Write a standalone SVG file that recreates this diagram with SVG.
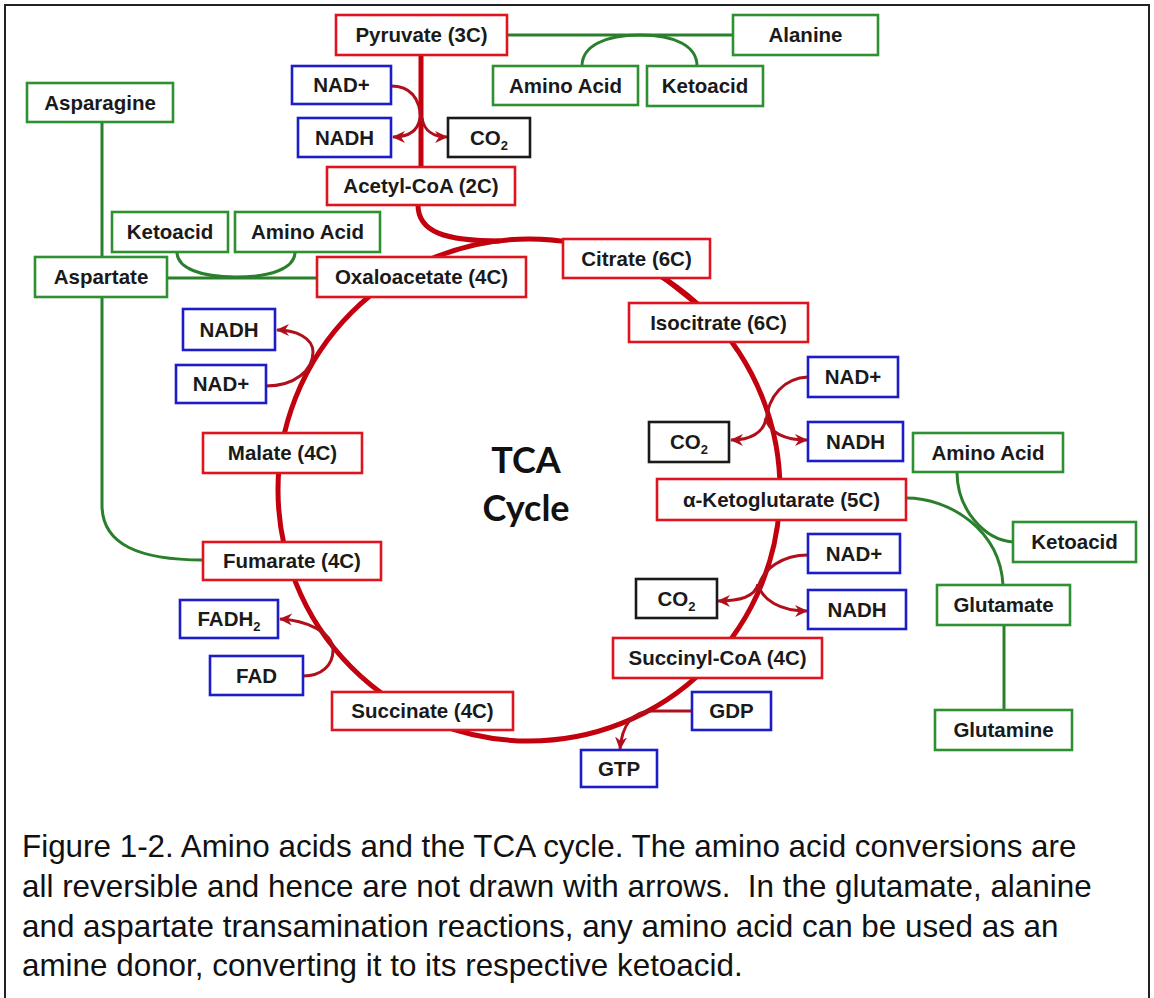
<svg xmlns="http://www.w3.org/2000/svg" width="1154" height="998" viewBox="0 0 1154 998">
<defs>
<style>
.bx{fill:#fff;stroke-width:2.6}
.r{stroke:#e0141e}
.b{stroke:#1c1cc8}
.g{stroke:#2e9030}
.k{stroke:#1a1a1a}
.t{font-family:"Liberation Sans",Arial,sans-serif;font-weight:bold;font-size:20.5px;fill:#1a1a1a;text-anchor:middle}
.sub{font-size:13px}
.cyc{fill:none;stroke:#c2000e;stroke-width:5}
.co{fill:none;stroke:#b0101c;stroke-width:3}
.gl{fill:none;stroke:#2a7f2c;stroke-width:3}
.cap{font-family:"Liberation Sans",Arial,sans-serif;font-size:31.4px;fill:#111}
</style>
<marker id="ah" markerUnits="userSpaceOnUse" markerWidth="14" markerHeight="14" viewBox="0 0 14 14" refX="12" refY="7" orient="auto">
<path d="M0,1 L13,7 L0,13 L4,7 z" fill="#b0101c"/>
</marker>
</defs>
<rect x="0" y="0" width="1154" height="998" fill="#fff"/>
<rect x="5" y="5" width="1144" height="1010" fill="none" stroke="#222" stroke-width="2"/>

<g id="connectors">
<circle class="cyc" cx="529" cy="490" r="251"/>
<line class="cyc" x1="421" y1="55" x2="421" y2="168"/>
<path class="cyc" d="M418,205 C418,232 445,241 500,241"/>
<line class="cyc" x1="663" y1="277" x2="697" y2="304"/>
<path class="co" d="M391,86 C410,86 420,98 421,120"/>
<path class="co" marker-end="url(#ah)" d="M420,118 C418,131 408,137 393,137"/>
<path class="co" marker-end="url(#ah)" d="M422,118 C424,131 434,137 447,137"/>
<path class="co" marker-end="url(#ah)" d="M266,386 C295,386 313,370 313,352 C313,338 296,330 277,330"/>
<path class="co" marker-end="url(#ah)" d="M303,676 C322,676 333,665 333,650 C333,632 305,620 280,619"/>
<path class="co" d="M808,377 C785,378 768,395 766,422"/>
<path class="co" marker-end="url(#ah)" d="M766,418 C764,433 750,440 731,440"/>
<path class="co" marker-end="url(#ah)" d="M766,418 C769,433 785,440 807,440"/>
<path class="co" d="M808,555 C783,555 763,568 758,588"/>
<path class="co" marker-end="url(#ah)" d="M758,584 C755,597 740,601 718,601"/>
<path class="co" marker-end="url(#ah)" d="M758,584 C762,600 780,611 807,611"/>
<path class="co" marker-end="url(#ah)" d="M692,711 L652,711 C632,711 622,726 620,749"/>
<line class="gl" x1="507" y1="35" x2="733" y2="35"/>
<path class="gl" d="M582,66 C582,46 605,35 640,35 C675,35 697,46 697,66"/>
<line class="gl" x1="102" y1="122" x2="102" y2="257"/>
<path class="gl" d="M102,297 L102,505 C102,545 140,560 203,560"/>
<line class="gl" x1="167" y1="278" x2="317" y2="278"/>
<path class="gl" d="M177,252 C177,268 200,277 236,277 C272,277 295,268 295,252"/>
<path class="gl" d="M906,498 C950,498 1000,530 1003,585"/>
<path class="gl" d="M957,472 C957,510 985,540 1013,542"/>
<line class="gl" x1="1004" y1="625" x2="1004" y2="710"/>
</g>

<g id="pyruvate"><rect class="bx r" x="336" y="15" width="171" height="40"/><text class="t" x="421.5" y="42">Pyruvate (3C)</text></g>
<g id="alanine"><rect class="bx g" x="733" y="15" width="145" height="40"/><text class="t" x="805.5" y="42">Alanine</text></g>
<g id="aminoacid-top"><rect class="bx g" x="493" y="66" width="145" height="39"/><text class="t" x="565.5" y="93">Amino Acid</text></g>
<g id="ketoacid-top"><rect class="bx g" x="647" y="66" width="116" height="40"/><text class="t" x="705" y="93">Ketoacid</text></g>
<g id="nadplus-top"><rect class="bx b" x="292" y="66" width="99" height="38"/><text class="t" x="341.5" y="92">NAD+</text></g>
<g id="nadh-top"><rect class="bx b" x="298" y="118" width="93" height="39"/><text class="t" x="344.5" y="145">NADH</text></g>
<g id="co2-top"><rect class="bx k" x="448" y="118" width="82" height="39"/><text class="t" x="489" y="145">CO<tspan class="sub" dy="5">2</tspan></text></g>
<g id="acetylcoa"><rect class="bx r" x="327" y="167" width="188" height="38"/><text class="t" x="421" y="193">Acetyl-CoA (2C)</text></g>
<g id="asparagine"><rect class="bx g" x="27" y="83" width="146" height="39"/><text class="t" x="100" y="110">Asparagine</text></g>
<g id="ketoacid-left"><rect class="bx g" x="112" y="212" width="116" height="40"/><text class="t" x="170" y="239">Ketoacid</text></g>
<g id="aminoacid-left"><rect class="bx g" x="235" y="212" width="145" height="40"/><text class="t" x="307.5" y="239">Amino Acid</text></g>
<g id="aspartate"><rect class="bx g" x="35" y="257" width="132" height="40"/><text class="t" x="101" y="284">Aspartate</text></g>
<g id="oxaloacetate"><rect class="bx r" x="317" y="257" width="209" height="40"/><text class="t" x="421.5" y="284">Oxaloacetate (4C)</text></g>
<g id="citrate"><rect class="bx r" x="563" y="239" width="147" height="39"/><text class="t" x="636.5" y="266">Citrate (6C)</text></g>
<g id="isocitrate"><rect class="bx r" x="629" y="303" width="179" height="39"/><text class="t" x="718.5" y="330">Isocitrate (6C)</text></g>
<g id="nadplus-ru"><rect class="bx b" x="808" y="357" width="90" height="40"/><text class="t" x="853" y="384">NAD+</text></g>
<g id="nadh-ru"><rect class="bx b" x="808" y="422" width="95" height="39"/><text class="t" x="855.5" y="449">NADH</text></g>
<g id="co2-mid"><rect class="bx k" x="649" y="422" width="80" height="40"/><text class="t" x="689" y="449">CO<tspan class="sub" dy="5">2</tspan></text></g>
<g id="akg"><rect class="bx r" x="657" y="479" width="249" height="41"/><text class="t" x="781.5" y="507">α-Ketoglutarate (5C)</text></g>
<g id="aminoacid-right"><rect class="bx g" x="913" y="433" width="150" height="39"/><text class="t" x="988" y="460">Amino Acid</text></g>
<g id="ketoacid-right"><rect class="bx g" x="1013" y="522" width="123" height="40"/><text class="t" x="1074.5" y="549">Ketoacid</text></g>
<g id="nadplus-rl"><rect class="bx b" x="808" y="534" width="92" height="39"/><text class="t" x="854" y="561">NAD+</text></g>
<g id="nadh-rl"><rect class="bx b" x="808" y="590" width="98" height="39"/><text class="t" x="857" y="617">NADH</text></g>
<g id="co2-rl"><rect class="bx k" x="636" y="579" width="81" height="39"/><text class="t" x="676.5" y="606">CO<tspan class="sub" dy="5">2</tspan></text></g>
<g id="glutamate"><rect class="bx g" x="937" y="585" width="133" height="40"/><text class="t" x="1003.5" y="612">Glutamate</text></g>
<g id="glutamine"><rect class="bx g" x="935" y="710" width="137" height="40"/><text class="t" x="1003.5" y="737">Glutamine</text></g>
<g id="succinylcoa"><rect class="bx r" x="613" y="638" width="209" height="40"/><text class="t" x="717.5" y="665">Succinyl-CoA (4C)</text></g>
<g id="gdp"><rect class="bx b" x="692" y="692" width="79" height="38"/><text class="t" x="731.5" y="718">GDP</text></g>
<g id="gtp"><rect class="bx b" x="581" y="750" width="76" height="37"/><text class="t" x="619" y="776">GTP</text></g>
<g id="succinate"><rect class="bx r" x="332" y="692" width="181" height="38"/><text class="t" x="422.5" y="718">Succinate (4C)</text></g>
<g id="fad"><rect class="bx b" x="210" y="656" width="93" height="39"/><text class="t" x="256.5" y="683">FAD</text></g>
<g id="fadh2"><rect class="bx b" x="180" y="600" width="98" height="38"/><text class="t" x="229" y="626">FADH<tspan class="sub" dy="5">2</tspan></text></g>
<g id="fumarate"><rect class="bx r" x="203" y="542" width="178" height="38"/><text class="t" x="292" y="568">Fumarate (4C)</text></g>
<g id="malate"><rect class="bx r" x="203" y="433" width="159" height="40"/><text class="t" x="282.5" y="460">Malate (4C)</text></g>
<g id="nadplus-left"><rect class="bx b" x="176" y="365" width="90" height="38"/><text class="t" x="221" y="391">NAD+</text></g>
<g id="nadh-left"><rect class="bx b" x="183" y="309" width="92" height="41"/><text class="t" x="229" y="337">NADH</text></g>

<g id="center-label" font-family="Lato,'Open Sans',sans-serif" font-weight="bold" font-size="36" fill="#111" text-anchor="middle">
<text x="526" y="473">TCA</text>
<text x="526" y="521">Cycle</text>
</g>

<g id="caption">
<text class="cap" x="22" y="857">Figure 1-2. Amino acids and the TCA cycle. The amino acid conversions are</text>
<text class="cap" x="22" y="897" xml:space="preserve">all reversible and hence are not drawn with arrows.  In the glutamate, alanine</text>
<text class="cap" x="22" y="937">and aspartate transamination reactions, any amino acid can be used as an</text>
<text class="cap" x="22" y="976">amine donor, converting it to its respective ketoacid.</text>
</g>
</svg>
